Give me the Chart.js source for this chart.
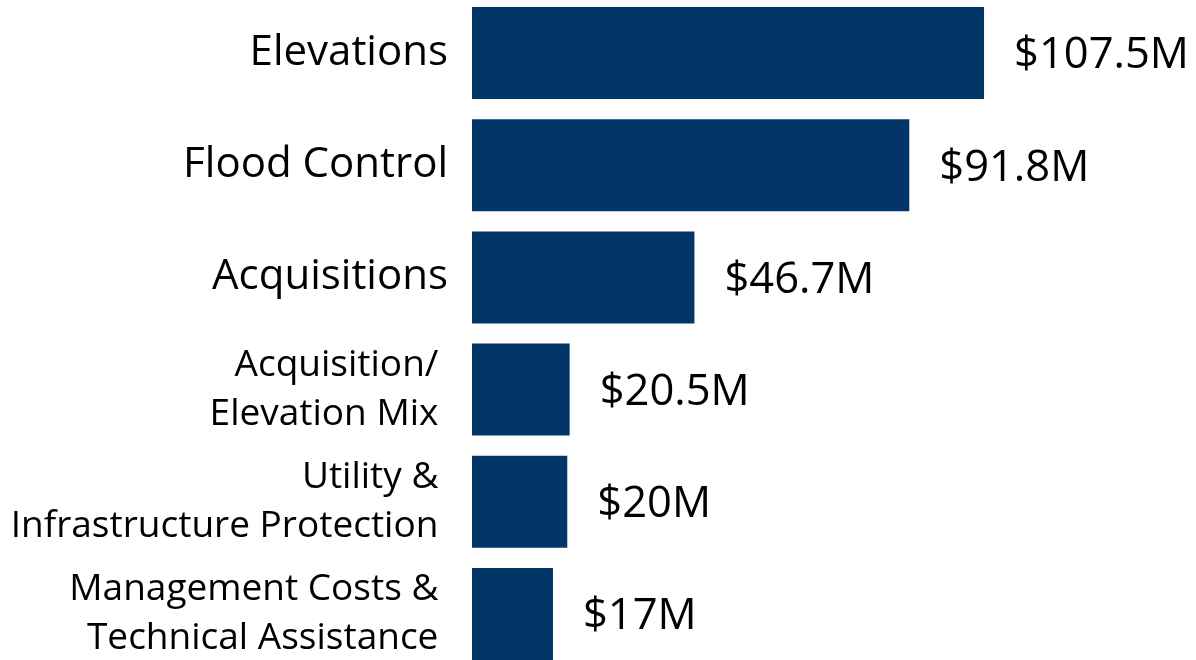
<!DOCTYPE html>
<html>
<head>
<meta charset="utf-8">
<script src="https://cdn.jsdelivr.net/npm/chart.js@4"></script>
<style>
  html, body { margin: 0; padding: 0; background: #fff; overflow: hidden; }
  #wrap { position: absolute; left: 0; top: -3px; width: 1196px; height: 673px; }
</style>
</head>
<body>
<div id="wrap"><canvas id="grafico"></canvas></div>
<script>
// categorias (rótulos do eixo, com quebra de linha onde o original quebra)
const categorias = [
    "Elevations",
    "Flood Control",
    "Acquisitions",
    ["Acquisition/ ", "Elevation Mix "],
    ["Utility & ", "Infrastructure Protection "],
    ["Management Costs & ", "Technical Assistance "]
];
// valores em milhões de dólares
const valores = [107.5, 91.8, 46.7, 20.5, 20, 17];
// rótulos mostrados à direita das barras
const rotulosValor = ["$107.5M", "$91.8M", "$46.7M", "$20.5M", "$20M", "$17M"];

const corBarra = "#023668";
const fonte = "'Open Sans', Lato, sans-serif";

// plugin simples para escrever o valor ao lado de cada barra
const valorNaBarra = {
    id: "valorNaBarra",
    afterDatasetsDraw(chart) {
        const ctx = chart.ctx;
        const meta = chart.getDatasetMeta(0);
        ctx.save();
        ctx.fillStyle = "#000";
        ctx.font = "43.5px " + fonte;
        ctx.textAlign = "left";
        ctx.textBaseline = "middle";
        meta.data.forEach((bar, i) => {
            ctx.fillText(rotulosValor[i], bar.x + 30, bar.y + 3);
        });
        ctx.restore();
    }
};

const ctx = document.getElementById("grafico").getContext("2d");
new Chart(ctx, {
    type: "bar",
    data: {
        labels: categorias,
        datasets: [{
            data: valores,
            backgroundColor: corBarra,
            borderWidth: 0,
            categoryPercentage: 1,
            barPercentage: 0.82
        }]
    },
    options: {
        indexAxis: "y",
        responsive: true,
        maintainAspectRatio: false,
        animation: false,
        layout: { padding: 0 },
        plugins: {
            legend: { display: false },
            tooltip: { enabled: false }
        },
        scales: {
            x: {
                display: false,
                min: 0,
                max: 152
            },
            y: {
                grid: { display: false, drawTicks: false },
                border: { display: false },
                afterFit: (scale) => {
                    scale.width = 472;
                    scale.paddingTop = 0;
                    scale.paddingBottom = 0;
                },
                ticks: {
                    color: "#000",
                    padding: 24,
                    autoSkip: false,
                    font: (c) => c.index < 3
                        ? { family: fonte, size: 42 }
                        : { family: fonte, size: 37, lineHeight: 1.32 }
                }
            }
        }
    },
    plugins: [valorNaBarra]
});
</script>
</body>
</html>
